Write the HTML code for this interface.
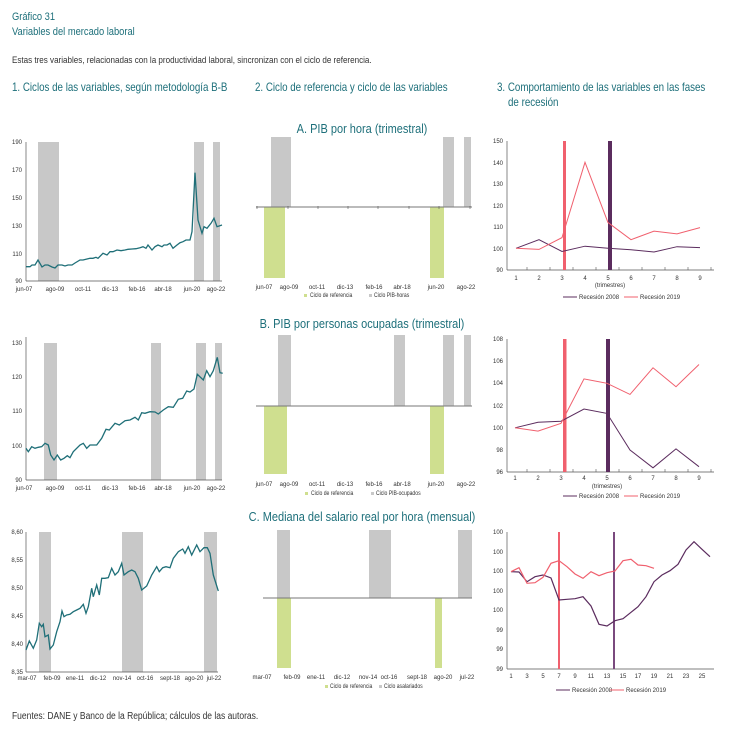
<!DOCTYPE html>
<html><head><meta charset="utf-8"><style>
body{margin:0;background:#fff}
svg{display:block;font-family:"Liberation Sans",sans-serif}
.t{fill:#333;font-size:6px}
.h{fill:#1d6f7a}
</style></head><body>
<svg width="734" height="736" viewBox="0 0 734 736" xmlns="http://www.w3.org/2000/svg">
<text x="12" y="20" font-size="11" class="h" transform="scale(0.85,1)" transform-origin="12 20">Gráfico 31</text>
<text x="12" y="35" font-size="11" class="h" transform="scale(0.85,1)" transform-origin="12 35">Variables del mercado laboral</text>
<text x="12" y="63" font-size="9.5" fill="#333" transform="scale(0.85,1)" transform-origin="12 63">Estas tres variables, relacionadas con la productividad laboral, sincronizan con el ciclo de referencia.</text>
<g font-size="11.5" class="h">
<text x="12" y="91" transform="scale(0.85,1)" transform-origin="12 91">1. Ciclos de las variables, según metodología B-B</text>
<text x="255" y="91" transform="scale(0.85,1)" transform-origin="255 91">2. Ciclo de referencia y ciclo de las variables</text>
<text x="497" y="91" transform="scale(0.85,1)" transform-origin="497 91">3. Comportamiento de las variables en las fases</text>
<text x="508" y="106" transform="scale(0.85,1)" transform-origin="508 106">de recesión</text>
</g>

<!-- LEFT A -->
<g>
<rect x="38" y="142" width="21" height="139" fill="#c8c8c8"/>
<rect x="194" y="142" width="10" height="139" fill="#c8c8c8"/>
<rect x="213" y="142" width="7" height="139" fill="#c8c8c8"/>
<line x1="26" y1="142" x2="26" y2="281" stroke="#555" stroke-width="0.7"/>
<line x1="26" y1="281" x2="222" y2="281" stroke="#555" stroke-width="0.7"/>
<g class="t" text-anchor="end"><text x="22" y="144">190</text><text x="22" y="172">170</text><text x="22" y="200">150</text><text x="22" y="228">130</text><text x="22" y="256">110</text><text x="22" y="283">90</text></g>
<g class="t" text-anchor="middle"><text x="24" y="291">jun-07</text><text x="55" y="291">ago-09</text><text x="83" y="291">oct-11</text><text x="110" y="291">dic-13</text><text x="137" y="291">feb-16</text><text x="163" y="291">abr-18</text><text x="192" y="291">jun-20</text><text x="216" y="291">ago-22</text></g>
<polyline fill="none" stroke="#1f6f78" stroke-width="1.3" points="26,266.7 30,266.7 32,265 35,265 38,260 42,267 45,265 48,265 52,267 55,268 58,265 62,265 65,266 68,265 72,265 75,263 80,260 83,260 86,259.3 90,258.3 93,258.3 96,257.3 98,258.3 103,253.3 107,255 110,251.7 113,251.7 117,250 121,250.7 125,250 128,249.3 132,249 136,248.7 140,247.7 143,246.7 146,248.3 148,245 152,250 155,246.7 158,245 162,246.7 164,245 167,245 170,243.3 173,248.3 177,245 180,242.7 183,241.7 186,240 190,240 192,231.7 195,172.7 198,220 202,233.3 204,226.7 207,228.3 211,223.3 214,218.3 217,226.7 222,225"/>
</g>

<!-- LEFT B -->
<g>
<rect x="44" y="343" width="13" height="137" fill="#c8c8c8"/>
<rect x="151" y="343" width="10" height="137" fill="#c8c8c8"/>
<rect x="196" y="343" width="10" height="137" fill="#c8c8c8"/>
<rect x="215" y="343" width="7" height="137" fill="#c8c8c8"/>
<line x1="26" y1="337" x2="26" y2="480" stroke="#555" stroke-width="0.7"/>
<line x1="26" y1="480" x2="222" y2="480" stroke="#555" stroke-width="0.7"/>
<g class="t" text-anchor="end"><text x="22" y="345">130</text><text x="22" y="379">120</text><text x="22" y="413">110</text><text x="22" y="448">100</text><text x="22" y="482">90</text></g>
<g class="t" text-anchor="middle"><text x="24" y="490">jun-07</text><text x="55" y="490">ago-09</text><text x="83" y="490">oct-11</text><text x="110" y="490">dic-13</text><text x="137" y="490">feb-16</text><text x="163" y="490">abr-18</text><text x="192" y="490">jun-20</text><text x="216" y="490">ago-22</text></g>
<polyline fill="none" stroke="#1f6f78" stroke-width="1.3" points="26,448.3 28.3,451.7 31.7,446.7 35,448.3 38.3,447.3 41.7,446.7 45,443.3 48.3,445 50.7,455 54,460 57.3,455 60.7,460 64,458.3 67.3,455.7 70,457.7 73.3,451.7 80,445 83.3,443.3 86.7,448.3 90,445 96.7,445 101.7,438.3 106,429.3 109.3,430 115,423.3 119.3,425 125,420.7 130,420 135,417.3 138.3,420 141.7,412.7 145,413.3 150,411.7 155,412 158.3,414 163.3,410 168.3,406.7 173.3,407.3 178.3,399.3 182.7,398.3 186.7,391 190,392 194,389 197.3,374.3 203.3,380 206.7,370.7 210,376.7 213.3,370.7 217.3,357.3 220,372.7 222.7,373.3"/>
</g>

<!-- LEFT C -->
<g>
<rect x="39" y="532" width="12" height="140" fill="#c8c8c8"/>
<rect x="122" y="532" width="21" height="140" fill="#c8c8c8"/>
<rect x="204" y="532" width="13" height="140" fill="#c8c8c8"/>
<line x1="26" y1="532" x2="26" y2="672" stroke="#555" stroke-width="0.7"/>
<line x1="26" y1="672" x2="218" y2="672" stroke="#555" stroke-width="0.7"/>
<g class="t" text-anchor="end"><text x="23" y="534">8,60</text><text x="23" y="562">8,55</text><text x="23" y="590">8,50</text><text x="23" y="618">8,45</text><text x="23" y="646">8,40</text><text x="23" y="674">8,35</text></g>
<g class="t" text-anchor="middle"><text x="27" y="680">mar-07</text><text x="52" y="680">feb-09</text><text x="75" y="680">ene-11</text><text x="98" y="680">dic-12</text><text x="122" y="680">nov-14</text><text x="145" y="680">oct-16</text><text x="170" y="680">sept-18</text><text x="194" y="680">ago-20</text><text x="214" y="680">jul-22</text></g>
<polyline fill="none" stroke="#1f6f78" stroke-width="1.3" points="26,650 29.3,641 33.3,648.3 36.7,640 39.3,623.3 41.7,626.7 43.3,624.3 45,636.7 48.3,635 50,649 53.3,645 56.7,631.7 60,621.7 62,611 64,616.7 66.7,615 70,614.3 73.3,611.7 76.7,610 80,608.3 83.3,604.3 86,613.3 88.3,606.7 91.7,588.3 93.3,596.7 96.7,585 99.3,595 101.7,578.3 105,578.3 108.3,577.7 111.7,568.3 115,575 118.3,571.7 121.7,563.3 124,575 128.3,571.7 131.7,570 135,571.7 138.3,578.3 141.7,590 146.7,586 151.7,575 156.7,566.7 159.3,571.7 162.7,567.7 166,566.7 170,567.7 173.3,558.3 178.3,551.7 182.7,549 185,553.3 188.3,546.7 191.7,555 196.7,545 200,551.7 204,547.7 207.3,547.7 210,553.3 213.3,575 218.3,591"/>
</g>

<!-- MIDDLE -->
<g fill="#1d6f7a" font-size="12.5" text-anchor="middle">
<text x="362" y="133" transform="scale(0.88,1)" transform-origin="362 133">A. PIB por hora (trimestral)</text>
<text x="362" y="328" transform="scale(0.88,1)" transform-origin="362 328">B. PIB por personas ocupadas (trimestral)</text>
<text x="362" y="521" transform="scale(0.88,1)" transform-origin="362 521">C. Mediana del salario real por hora (mensual)</text>
</g>
<!-- A -->
<g>
<rect x="271" y="137" width="20" height="70" fill="#c8c8c8"/>
<rect x="443" y="137" width="11" height="70" fill="#c8c8c8"/>
<rect x="464" y="137" width="7" height="70" fill="#c8c8c8"/>
<rect x="264" y="207" width="21" height="71" fill="#cfdf8f"/>
<rect x="430" y="207" width="14" height="71" fill="#cfdf8f"/>
<line x1="256" y1="207" x2="472" y2="207" stroke="#777" stroke-width="1"/>
<g stroke="#555" stroke-width="0.6"><line x1="257" y1="206" x2="257" y2="209"/><line x1="288" y1="206" x2="288" y2="209"/><line x1="318" y1="206" x2="318" y2="209"/><line x1="348" y1="206" x2="348" y2="209"/><line x1="378" y1="206" x2="378" y2="209"/><line x1="409" y1="206" x2="409" y2="209"/><line x1="439" y1="206" x2="439" y2="209"/><line x1="470" y1="206" x2="470" y2="209"/></g>
<g class="t" text-anchor="middle"><text x="264" y="289">jun-07</text><text x="289" y="289">ago-09</text><text x="317" y="289">oct-11</text><text x="345" y="289">dic-13</text><text x="374" y="289">feb-16</text><text x="402" y="289">abr-18</text><text x="436" y="289">jun-20</text><text x="466" y="289">ago-22</text></g>
<rect x="304" y="294" width="3" height="3" fill="#cfdf8f"/><text x="310" y="297" class="t" font-size="5.5" transform="scale(0.85,1)" transform-origin="310 297">Ciclo de referencia</text>
<rect x="369" y="294" width="3" height="3" fill="#c8c8c8"/><text x="374" y="297" class="t" font-size="5.5" transform="scale(0.85,1)" transform-origin="374 297">Ciclo PIB-horas</text>
</g>
<!-- B -->
<g>
<rect x="278" y="335" width="13" height="71" fill="#c8c8c8"/>
<rect x="394" y="335" width="11" height="71" fill="#c8c8c8"/>
<rect x="443" y="335" width="11" height="71" fill="#c8c8c8"/>
<rect x="464" y="335" width="7" height="71" fill="#c8c8c8"/>
<rect x="264" y="406" width="23" height="68" fill="#cfdf8f"/>
<rect x="430" y="406" width="14" height="68" fill="#cfdf8f"/>
<line x1="256" y1="406" x2="472" y2="406" stroke="#777" stroke-width="1"/>
<g class="t" text-anchor="middle"><text x="264" y="486">jun-07</text><text x="289" y="486">ago-09</text><text x="317" y="486">oct-11</text><text x="345" y="486">dic-13</text><text x="374" y="486">feb-16</text><text x="402" y="486">abr-18</text><text x="436" y="486">jun-20</text><text x="466" y="486">ago-22</text></g>
<rect x="305" y="492" width="3" height="3" fill="#cfdf8f"/><text x="311" y="495" class="t" font-size="5.5" transform="scale(0.85,1)" transform-origin="311 495">Ciclo de referencia</text>
<rect x="371" y="492" width="3" height="3" fill="#c8c8c8"/><text x="376" y="495" class="t" font-size="5.5" transform="scale(0.85,1)" transform-origin="376 495">Ciclo PIB-ocupados</text>
</g>
<!-- C -->
<g>
<rect x="277" y="530" width="13" height="68" fill="#c8c8c8"/>
<rect x="369" y="530" width="22" height="68" fill="#c8c8c8"/>
<rect x="458" y="530" width="14" height="68" fill="#c8c8c8"/>
<rect x="277" y="598" width="14" height="70" fill="#cfdf8f"/>
<rect x="435" y="598" width="7" height="70" fill="#cfdf8f"/>
<line x1="263" y1="598" x2="472" y2="598" stroke="#777" stroke-width="1"/>
<g class="t" text-anchor="middle"><text x="262" y="679">mar-07</text><text x="292" y="679">feb-09</text><text x="316" y="679">ene-11</text><text x="342" y="679">dic-12</text><text x="368" y="679">nov-14</text><text x="389" y="679">oct-16</text><text x="417" y="679">sept-18</text><text x="443" y="679">ago-20</text><text x="467" y="679">jul-22</text></g>
<rect x="325" y="685" width="3" height="3" fill="#cfdf8f"/><text x="330" y="688" class="t" font-size="5.5" transform="scale(0.85,1)" transform-origin="330 688">Ciclo de referencia</text>
<rect x="379" y="685" width="3" height="3" fill="#c8c8c8"/><text x="384" y="688" class="t" font-size="5.5" transform="scale(0.85,1)" transform-origin="384 688">Ciclo asalariados</text>
</g>

<!-- RIGHT 1 -->
<g>
<line x1="507" y1="141" x2="507" y2="270" stroke="#555" stroke-width="0.7"/>
<line x1="507" y1="270" x2="714" y2="270" stroke="#555" stroke-width="0.7"/>
<g stroke="#555" stroke-width="0.6"><line x1="527" y1="267" x2="527" y2="270"/><line x1="550" y1="267" x2="550" y2="270"/><line x1="573" y1="267" x2="573" y2="270"/><line x1="596" y1="267" x2="596" y2="270"/><line x1="619" y1="267" x2="619" y2="270"/><line x1="642" y1="267" x2="642" y2="270"/><line x1="665" y1="267" x2="665" y2="270"/><line x1="688" y1="267" x2="688" y2="270"/><line x1="711" y1="267" x2="711" y2="270"/></g>
<g class="t" text-anchor="end"><text x="503" y="143">150</text><text x="503" y="165">140</text><text x="503" y="186">130</text><text x="503" y="208">120</text><text x="503" y="229">110</text><text x="503" y="251">100</text><text x="503" y="272">90</text></g>
<g class="t" text-anchor="middle"><text x="516" y="280">1</text><text x="539" y="280">2</text><text x="562" y="280">3</text><text x="585" y="280">4</text><text x="608" y="280">5</text><text x="631" y="280">6</text><text x="654" y="280">7</text><text x="677" y="280">8</text><text x="700" y="280">9</text><text x="610" y="287">(trimestres)</text></g>
<rect x="563" y="141" width="3" height="129" fill="#f0606e"/>
<rect x="608" y="141" width="4" height="129" fill="#5b2c5e"/>
<polyline fill="none" stroke="#5b2c5e" stroke-width="1" points="516,248.3 539,239.7 562,251.5 585,246.2 608,248.3 631,249.8 654,252 677,246.7 700,247.6"/>
<polyline fill="none" stroke="#f0606e" stroke-width="1" points="516,248.3 539,249.4 562,237.6 585,162.3 608,222.5 631,239.7 654,231.1 677,233.9 700,227.6"/>
<line x1="563" y1="297" x2="577" y2="297" stroke="#5b2c5e"/><text x="579" y="299" class="t" font-size="5.5">Recesión 2008</text>
<line x1="624" y1="297" x2="638" y2="297" stroke="#f0606e"/><text x="640" y="299" class="t" font-size="5.5">Recesión 2019</text>
</g>

<!-- RIGHT 2 -->
<g>
<line x1="507" y1="339" x2="507" y2="472" stroke="#555" stroke-width="0.7"/>
<line x1="507" y1="472" x2="714" y2="472" stroke="#555" stroke-width="0.7"/>
<g stroke="#555" stroke-width="0.6"><line x1="527" y1="469" x2="527" y2="472"/><line x1="550" y1="469" x2="550" y2="472"/><line x1="573" y1="469" x2="573" y2="472"/><line x1="596" y1="469" x2="596" y2="472"/><line x1="619" y1="469" x2="619" y2="472"/><line x1="642" y1="469" x2="642" y2="472"/><line x1="665" y1="469" x2="665" y2="472"/><line x1="688" y1="469" x2="688" y2="472"/><line x1="711" y1="469" x2="711" y2="472"/></g>
<g class="t" text-anchor="end"><text x="503" y="341">108</text><text x="503" y="363">106</text><text x="503" y="385">104</text><text x="503" y="408">102</text><text x="503" y="430">100</text><text x="503" y="452">98</text><text x="503" y="474">96</text></g>
<g class="t" text-anchor="middle"><text x="515" y="480">1</text><text x="538" y="480">2</text><text x="561" y="480">3</text><text x="584" y="480">4</text><text x="607" y="480">5</text><text x="630" y="480">6</text><text x="653" y="480">7</text><text x="676" y="480">8</text><text x="699" y="480">9</text><text x="607" y="488">(trimestres)</text></g>
<rect x="563" y="339" width="3.5" height="133" fill="#f0606e"/>
<rect x="606" y="339" width="4" height="133" fill="#5b2c5e"/>
<polyline fill="none" stroke="#5b2c5e" stroke-width="1" points="515,427.8 538,422.3 561,421.2 584,409 607,413.4 630,450 653,467.8 676,448.9 699,466.7"/>
<polyline fill="none" stroke="#f0606e" stroke-width="1" points="515,427.8 538,431.1 561,423.4 584,378.9 607,383.3 630,394.4 653,367.8 676,386.7 699,364.5"/>
<line x1="563" y1="496" x2="577" y2="496" stroke="#5b2c5e"/><text x="579" y="498" class="t" font-size="5.5">Recesión 2008</text>
<line x1="624" y1="496" x2="638" y2="496" stroke="#f0606e"/><text x="640" y="498" class="t" font-size="5.5">Recesión 2019</text>
</g>

<!-- RIGHT 3 -->
<g>
<line x1="507" y1="532" x2="507" y2="669" stroke="#555" stroke-width="0.7"/>
<line x1="507" y1="669" x2="714" y2="669" stroke="#555" stroke-width="0.7"/>
<g class="t" text-anchor="end"><text x="503" y="534">100</text><text x="503" y="554">100</text><text x="503" y="573">100</text><text x="503" y="593">100</text><text x="503" y="612">100</text><text x="503" y="632">99</text><text x="503" y="651">99</text><text x="503" y="671">99</text></g>
<g class="t" text-anchor="middle"><text x="511" y="678">1</text><text x="527" y="678">3</text><text x="543" y="678">5</text><text x="559" y="678">7</text><text x="575" y="678">9</text><text x="591" y="678">11</text><text x="607" y="678">13</text><text x="623" y="678">15</text><text x="638" y="678">17</text><text x="654" y="678">19</text><text x="670" y="678">21</text><text x="686" y="678">23</text><text x="702" y="678">25</text></g>
<rect x="558" y="532" width="2" height="137" fill="#f0606e"/>
<rect x="613" y="532" width="2" height="137" fill="#7a4a7e"/>
<polyline fill="none" stroke="#5b2c5e" stroke-width="1.2" points="511,571.7 519,572 527,581.7 535,576.7 543,575 551,578 559,600 567,599.3 575,598.7 583,596.7 591,606 599,624.3 607,626 615,620.7 623,618.7 631,612.3 638,606.7 646,596.7 654,581.7 662,575 670,570.7 678,564.3 686,550 694,541.7 702,549.3 710,556.7"/>
<polyline fill="none" stroke="#f0606e" stroke-width="1.2" points="511,571.7 519,567.7 527,583.3 535,582.7 543,577.3 551,563.3 559,560.7 567,566.7 575,574 583,578.3 591,571.7 599,575.7 607,572.7 615,571 623,560.7 631,559.3 638,565 646,565.7 654,568.3"/>
<line x1="556" y1="690" x2="570" y2="690" stroke="#5b2c5e"/><text x="572" y="692" class="t" font-size="5.5">Recesión 2008</text>
<line x1="610" y1="690" x2="624" y2="690" stroke="#f0606e"/><text x="626" y="692" class="t" font-size="5.5">Recesión 2019</text>
</g>

<text x="12" y="719" font-size="10" fill="#333" transform="scale(0.85,1)" transform-origin="12 719">Fuentes: DANE y Banco de la República; cálculos de las autoras.</text>
</svg>
</body></html>
